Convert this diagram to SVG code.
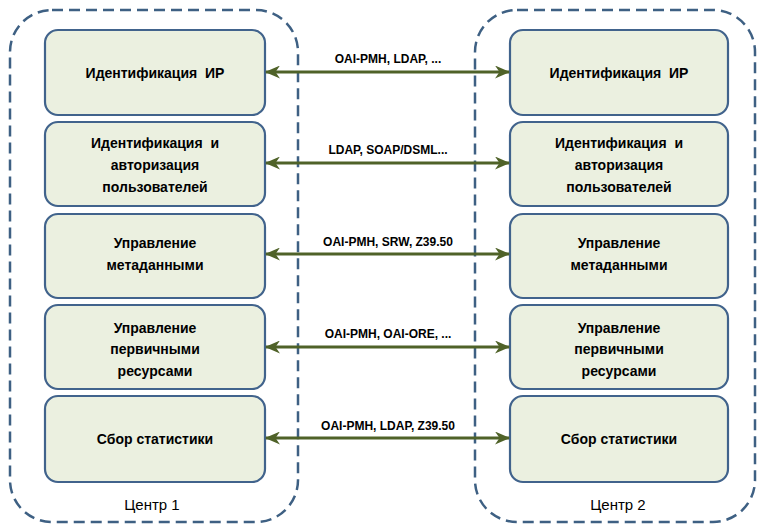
<svg xmlns="http://www.w3.org/2000/svg" width="765" height="525" viewBox="0 0 765 525">
<defs>
<marker id="ah" viewBox="0 0 15 13" refX="14" refY="6.5" markerWidth="15" markerHeight="13" markerUnits="userSpaceOnUse" orient="auto-start-reverse">
<path d="M0,0 L15,6.5 L0,13 L4.5,6.5 Z" fill="#4F6228"/>
</marker>
<style>
.cont{fill:none;stroke:#3E6083;stroke-width:2.5;stroke-dasharray:11 6}
.box{fill:#EBF0E0;stroke:#41638C;stroke-width:2.2}
.bt{font-family:"Liberation Sans",Arial,sans-serif;font-weight:bold;font-size:14px;fill:#000;text-anchor:middle}
.lt{font-family:"Liberation Sans",Arial,sans-serif;font-weight:bold;font-size:12px;fill:#000;text-anchor:middle}
.ct{font-family:"Liberation Sans",Arial,sans-serif;font-size:15px;fill:#000;text-anchor:middle}
.ar{stroke:#4F6228;stroke-width:3;fill:none;marker-start:url(#ah);marker-end:url(#ah)}
</style>
</defs>
<rect fill="#fff" width="765" height="525"/>
<g id="center1">
<rect class="cont" x="10" y="10" width="288" height="512" rx="42"/>
<text class="ct" x="152" y="510">Центр 1</text>
</g>
<g id="center2">
<rect class="cont" x="475" y="10" width="280" height="512" rx="42"/>
<text class="ct" x="618" y="510">Центр 2</text>
</g>
<g id="l1"><rect class="box" x="45" y="30" width="220" height="85" rx="13"/><text class="bt" x="155" y="78">Идентификация&#160; ИР</text></g>
<g id="l2"><rect class="box" x="45" y="122" width="220" height="84" rx="13"/><text class="bt" x="155" y="148">Идентификация&#160; и</text><text class="bt" x="155" y="170">авторизация</text><text class="bt" x="155" y="192">пользователей</text></g>
<g id="l3"><rect class="box" x="45" y="214" width="220" height="84" rx="13"/><text class="bt" x="155" y="248">Управление</text><text class="bt" x="155" y="270">метаданными</text></g>
<g id="l4"><rect class="box" x="45" y="305" width="220" height="84" rx="13"/><text class="bt" x="155" y="333">Управление</text><text class="bt" x="155" y="354">первичными</text><text class="bt" x="155" y="376">ресурсами</text></g>
<g id="l5"><rect class="box" x="45" y="396" width="220" height="86" rx="13"/><text class="bt" x="155" y="444">Сбор статистики</text></g>
<g id="r1"><rect class="box" x="510" y="30" width="218" height="85" rx="13"/><text class="bt" x="619" y="78">Идентификация&#160; ИР</text></g>
<g id="r2"><rect class="box" x="510" y="122" width="218" height="84" rx="13"/><text class="bt" x="619" y="148">Идентификация&#160; и</text><text class="bt" x="619" y="170">авторизация</text><text class="bt" x="619" y="192">пользователей</text></g>
<g id="r3"><rect class="box" x="510" y="214" width="218" height="84" rx="13"/><text class="bt" x="619" y="248">Управление</text><text class="bt" x="619" y="270">метаданными</text></g>
<g id="r4"><rect class="box" x="510" y="305" width="218" height="84" rx="13"/><text class="bt" x="619" y="333">Управление</text><text class="bt" x="619" y="354">первичными</text><text class="bt" x="619" y="376">ресурсами</text></g>
<g id="r5"><rect class="box" x="510" y="396" width="218" height="86" rx="13"/><text class="bt" x="619" y="444">Сбор статистики</text></g>
<g id="connectors">
<line class="ar" x1="266" y1="72" x2="509" y2="72"/>
<text class="lt" x="388" y="63">OAI-PMH, LDAP, ...</text>
<line class="ar" x1="266" y1="163" x2="509" y2="163"/>
<text class="lt" x="388" y="154">LDAP, SOAP/DSML...</text>
<line class="ar" x1="266" y1="254" x2="509" y2="254"/>
<text class="lt" x="388" y="246">OAI-PMH, SRW, Z39.50</text>
<line class="ar" x1="266" y1="347" x2="509" y2="347"/>
<text class="lt" x="388" y="338">OAI-PMH, OAI-ORE, ...</text>
<line class="ar" x1="266" y1="438" x2="509" y2="438"/>
<text class="lt" x="388" y="430">OAI-PMH, LDAP, Z39.50</text>
</g>
</svg>
